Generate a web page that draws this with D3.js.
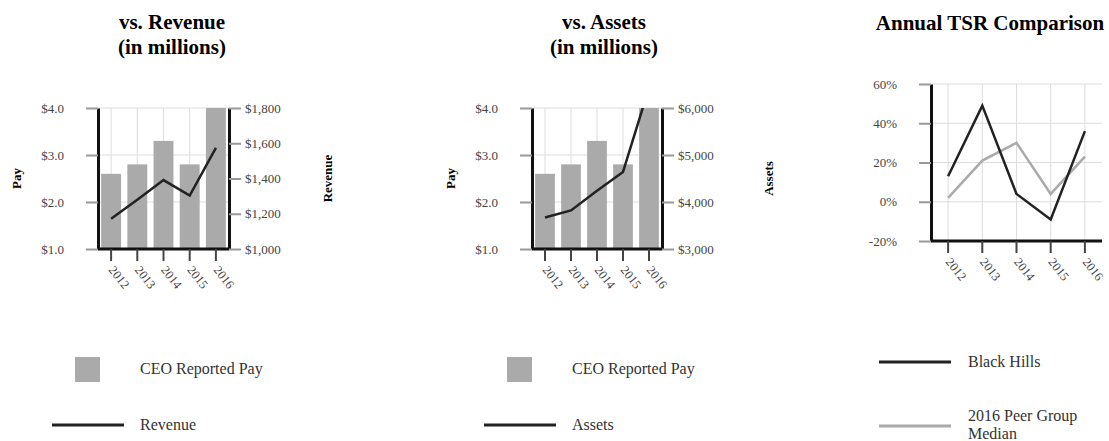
<!DOCTYPE html>
<html>
<head>
<meta charset="utf-8">
<script src="https://cdn.jsdelivr.net/npm/d3@7"></script>
<style>
  body { margin: 0; background: #fff; }
  svg text { font-family: "Liberation Serif", "Times New Roman", serif; }
</style>
</head>
<body>
<svg id="chart" width="1109" height="441" font-family="Liberation Serif, serif"></svg>
<script>
// data
const years = ["2012", "2013", "2014", "2015", "2016"];
const ceoPay = [2.6, 2.8, 3.3, 2.8, 4.0];
const revenue = [1171, 1279, 1391, 1303, 1574];
const assets = [3670, 3820, 4240, 4640, 6430];
const blackHills = [13, 49, 4, -9, 36];
const peerMedian = [2, 21, 30, 4, 23];

const payTicks = [1, 2, 3, 4];
const revenueTicks = [1000, 1200, 1400, 1600, 1800];
const assetTicks = [3000, 4000, 5000, 6000];
const tsrTicks = [-20, 0, 20, 40, 60];

const serif = "Liberation Serif, serif";
const svg = d3.select("#chart");

// styling helpers for axes
function styleYAxis(g) {
  g.attr("font-family", serif);
  g.select(".domain").attr("stroke", "#111").attr("stroke-width", 3);
  g.selectAll(".tick line").attr("stroke", "#999").attr("stroke-width", 2);
  g.selectAll(".tick text").attr("fill", "#444").attr("font-size", 13).attr("font-family", serif);
}

function drawXAxis(g, xPos, bottom, left, right) {
  // thick black base line
  g.append("line")
    .attr("x1", left).attr("x2", right)
    .attr("y1", bottom).attr("y2", bottom)
    .attr("stroke", "#111").attr("stroke-width", 3);
  years.forEach((yr, i) => {
    const x = xPos(i);
    g.append("line")
      .attr("x1", x).attr("x2", x)
      .attr("y1", bottom).attr("y2", bottom + 12)
      .attr("stroke", "#444").attr("stroke-width", 2);
    g.append("text")
      .attr("transform", `translate(${x - 3},${bottom + 21}) rotate(52)`)
      .attr("font-size", 12.5)
      .attr("font-family", serif)
      .attr("fill", "#444")
      .text(yr);
  });
}

// Pay vs something chart (bars + line on second axis)
function payChart(opt) {
  const top = 108, bottom = 249;
  const g = svg.append("g");

  const x = d3.scaleBand()
    .domain(years)
    .range([opt.left, opt.right])
    .paddingInner(0.24)
    .paddingOuter(0.12);
  const xc = i => x(years[i]) + x.bandwidth() / 2;

  const yPay = d3.scaleLinear().domain([1, 4]).range([bottom, top]);
  const y2 = d3.scaleLinear().domain(opt.domain).range([bottom, top]);

  // grid
  g.selectAll(".vgrid").data(years).enter().append("line")
    .attr("x1", (d, i) => xc(i)).attr("x2", (d, i) => xc(i))
    .attr("y1", top).attr("y2", bottom)
    .attr("stroke", "#ddd").attr("stroke-width", 1);
  g.selectAll(".hgrid").data(payTicks).enter().append("line")
    .attr("x1", opt.left).attr("x2", opt.right)
    .attr("y1", d => yPay(d)).attr("y2", d => yPay(d))
    .attr("stroke", "#ddd").attr("stroke-width", 1);

  // bars
  g.selectAll(".bar").data(ceoPay).enter().append("rect")
    .attr("x", (d, i) => x(years[i]))
    .attr("y", d => yPay(d))
    .attr("width", x.bandwidth())
    .attr("height", d => bottom - yPay(d))
    .attr("fill", "#aaaaaa");

  // line clipped to plot
  const clipId = "clip" + opt.left;
  svg.append("clipPath").attr("id", clipId)
    .append("rect")
    .attr("x", opt.left).attr("y", top)
    .attr("width", opt.right - opt.left).attr("height", bottom - top);

  const line = d3.line().x((d, i) => xc(i)).y(d => y2(d));
  g.append("path")
    .datum(opt.values)
    .attr("clip-path", `url(#${clipId})`)
    .attr("d", line)
    .attr("fill", "none")
    .attr("stroke", "#222")
    .attr("stroke-width", 2.5);

  // axes
  g.append("g")
    .attr("transform", `translate(${opt.left},0)`)
    .call(d3.axisLeft(yPay).tickValues(payTicks).tickSize(12).tickSizeOuter(0).tickPadding(22)
      .tickFormat(d => "$" + d3.format(".1f")(d)))
    .call(styleYAxis);

  g.append("g")
    .attr("transform", `translate(${opt.right},0)`)
    .call(d3.axisRight(y2).tickValues(opt.ticks).tickSize(12).tickSizeOuter(0).tickPadding(4)
      .tickFormat(d => "$" + d3.format(",")(d)))
    .call(styleYAxis);

  drawXAxis(g, xc, bottom, opt.left, opt.right);

  // titles
  g.append("text").attr("x", opt.titleX).attr("y", 29)
    .attr("text-anchor", "middle").attr("font-size", 21).attr("font-weight", "bold")
    .text(opt.title);
  g.append("text").attr("x", opt.titleX).attr("y", 54)
    .attr("text-anchor", "middle").attr("font-size", 21).attr("font-weight", "bold")
    .text("(in millions)");

  g.append("text")
    .attr("transform", `translate(${opt.left - 82},${(top + bottom) / 2}) rotate(-90)`)
    .attr("text-anchor", "middle").attr("dy", "0.35em")
    .attr("font-size", 13).attr("font-weight", "bold")
    .text("Pay");
  g.append("text")
    .attr("transform", `translate(${opt.axisTitleX},${(top + bottom) / 2}) rotate(-90)`)
    .attr("text-anchor", "middle").attr("dy", "0.35em")
    .attr("font-size", 13).attr("font-weight", "bold")
    .text(opt.label);

  // legend
  g.append("rect")
    .attr("x", opt.legendX + 23).attr("y", 357)
    .attr("width", 25).attr("height", 25)
    .attr("fill", "#aaaaaa");
  g.append("text").attr("x", opt.legendText).attr("y", 374)
    .attr("font-size", 16).attr("fill", "#333")
    .text("CEO Reported Pay");
  g.append("line")
    .attr("x1", opt.legendX).attr("x2", opt.legendX + 72)
    .attr("y1", 425).attr("y2", 425)
    .attr("stroke", "#222").attr("stroke-width", 3);
  g.append("text").attr("x", opt.legendText).attr("y", 430)
    .attr("font-size", 16).attr("fill", "#333")
    .text(opt.label);
}

payChart({
  left: 98, right: 229, title: "vs. Revenue", titleX: 172,
  values: revenue, domain: [1000, 1800], ticks: revenueTicks,
  label: "Revenue", axisTitleX: 327, legendX: 52, legendText: 140
});

payChart({
  left: 532, right: 662, title: "vs. Assets", titleX: 604,
  values: assets, domain: [3000, 6000], ticks: assetTicks,
  label: "Assets", axisTitleX: 768, legendX: 484, legendText: 572
});

// TSR chart
(function () {
  const left = 931, right = 1102, top = 84, bottom = 241;
  const g = svg.append("g");

  const x = d3.scalePoint().domain(years).range([left, right]).padding(0.5);
  const xc = i => x(years[i]);
  const y = d3.scaleLinear().domain([-20, 60]).range([bottom, top]);

  g.selectAll(".vgrid").data(years).enter().append("line")
    .attr("x1", (d, i) => xc(i)).attr("x2", (d, i) => xc(i))
    .attr("y1", top).attr("y2", bottom)
    .attr("stroke", "#ddd").attr("stroke-width", 1);
  g.selectAll(".hgrid").data(tsrTicks).enter().append("line")
    .attr("x1", left).attr("x2", right)
    .attr("y1", d => y(d)).attr("y2", d => y(d))
    .attr("stroke", "#ddd").attr("stroke-width", 1);

  const line = d3.line().x((d, i) => xc(i)).y(d => y(d));
  g.append("path").datum(peerMedian)
    .attr("d", line).attr("fill", "none")
    .attr("stroke", "#aaa").attr("stroke-width", 2.5);
  g.append("path").datum(blackHills)
    .attr("d", line).attr("fill", "none")
    .attr("stroke", "#222").attr("stroke-width", 2.5);

  g.append("g")
    .attr("transform", `translate(${left},0)`)
    .call(d3.axisLeft(y).tickValues(tsrTicks).tickSize(12).tickSizeOuter(0).tickPadding(22)
      .tickFormat(d => d + "%"))
    .call(styleYAxis);

  drawXAxis(g, xc, bottom, left, right);

  g.append("text").attr("x", 990).attr("y", 30)
    .attr("text-anchor", "middle").attr("font-size", 21).attr("font-weight", "bold")
    .text("Annual TSR Comparison");

  // legend
  g.append("line")
    .attr("x1", 879).attr("x2", 951).attr("y1", 362).attr("y2", 362)
    .attr("stroke", "#222").attr("stroke-width", 3);
  g.append("text").attr("x", 968).attr("y", 367)
    .attr("font-size", 16).attr("fill", "#333").text("Black Hills");
  g.append("line")
    .attr("x1", 879).attr("x2", 951).attr("y1", 426).attr("y2", 426)
    .attr("stroke", "#aaa").attr("stroke-width", 3);
  g.append("text").attr("x", 968).attr("y", 421)
    .attr("font-size", 16).attr("fill", "#333").text("2016 Peer Group");
  g.append("text").attr("x", 968).attr("y", 439)
    .attr("font-size", 16).attr("fill", "#333").text("Median");
})();
</script>
</body>
</html>
